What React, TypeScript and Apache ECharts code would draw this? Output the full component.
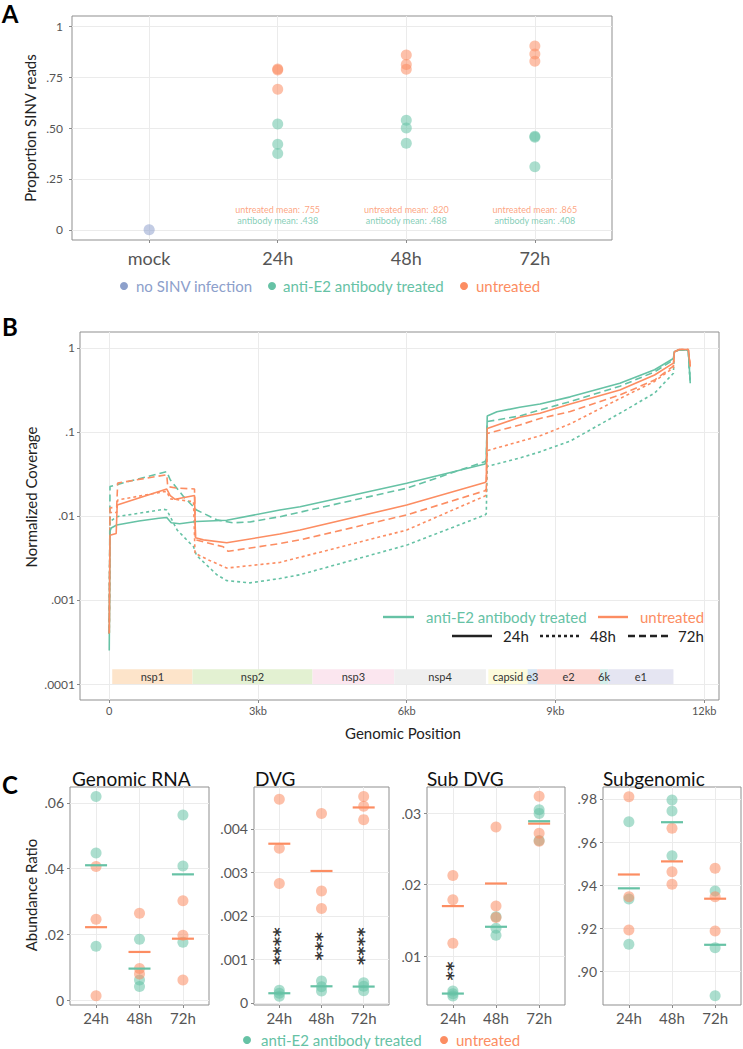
import React, { useEffect, useRef } from "react";
import * as echarts from "echarts";

const GREEN = "#66c2a5";
const ORANGE = "#fc8d62";
const BLUE = "#8da0cb";
const FONT = "Lato";
const DOTTED = [3, 3];
const DASHED = [7, 4];

// ---------------- Panel A data ----------------
const aCategories = ["mock", "24h", "48h", "72h"];
const aMockValues = [0, 0, 0];
const aAntibodyValues = [
  [0.52, 0.42, 0.375],
  [0.538, 0.5, 0.425],
  [0.46, 0.455, 0.31],
];
const aUntreatedValues = [
  [0.79, 0.785, 0.69],
  [0.858, 0.812, 0.789],
  [0.903, 0.863, 0.828],
];
const aUntreatedMeanLabels = [".755", ".820", ".865"];
const aAntibodyMeanLabels = [".438", ".488", ".408"];
const aYTicks = [0, 0.25, 0.5, 0.75, 1];
const aYTickLabels = ["0", ".25", ".50", ".75", "1"];

// ---------------- Panel B data ----------------
const bXTicks = [0, 3000, 6000, 9000, 12000];
const bXTickLabels = ["0", "3kb", "6kb", "9kb", "12kb"];
const bYTicks = [0.0001, 0.001, 0.01, 0.1, 1];
const bYTickLabels = [".0001", ".001", ".01", ".1", "1"];

const bAntibody24h = [
  [0, 0.00025], [15, 0.0066], [40, 0.0072], [150, 0.0078], [600, 0.0087], [1000, 0.0094],
  [1160, 0.0096], [1250, 0.0083], [1420, 0.0081], [1760, 0.0086], [2370, 0.0089],
  [3440, 0.0118], [3850, 0.0129], [6000, 0.0245], [7580, 0.0415], [7605, 0.045],
  [7625, 0.155], [7820, 0.174], [8280, 0.197], [8690, 0.215], [9300, 0.262], [10300, 0.38],
  [11000, 0.55], [11380, 0.75], [11400, 0.9], [11500, 0.95], [11680, 0.95], [11720, 0.38],
];
const bAntibody48h = [
  [0, 0.0004], [15, 0.0086], [150, 0.0098], [1100, 0.012], [1160, 0.0118], [1370, 0.0068],
  [1700, 0.0043], [1760, 0.0034], [2170, 0.002], [2370, 0.0017], [2840, 0.0016],
  [3440, 0.0018], [3850, 0.002], [6000, 0.0045], [7580, 0.0103], [7605, 0.0106],
  [7625, 0.039], [8280, 0.049], [8690, 0.058], [9300, 0.078], [10300, 0.167], [11000, 0.29],
  [11380, 0.5], [11400, 0.9], [11500, 0.95], [11680, 0.95], [11720, 0.38],
];
const bAntibody72h = [
  [0, 0.0004], [15, 0.0224], [300, 0.025], [1160, 0.0337], [1230, 0.027], [1500, 0.017],
  [1760, 0.0118], [2170, 0.009], [2500, 0.0083], [2840, 0.0085], [3440, 0.0098],
  [6000, 0.0214], [7580, 0.0445], [7605, 0.047], [7625, 0.133], [8280, 0.155], [8690, 0.183],
  [9300, 0.23], [10300, 0.35], [11000, 0.52], [11380, 0.72], [11400, 0.9], [11500, 0.95],
  [11680, 0.95], [11720, 0.38],
];
const bUntreated24h = [
  [0, 0.0004], [15, 0.0059], [140, 0.0062], [160, 0.0135], [1160, 0.0209], [1230, 0.0175],
  [1330, 0.0158], [1720, 0.0175], [1740, 0.0055], [1900, 0.0052], [2370, 0.0048],
  [3440, 0.0061], [3850, 0.0068], [6000, 0.0135], [7580, 0.025], [7605, 0.026], [7625, 0.11],
  [8280, 0.15], [8690, 0.167], [9300, 0.216], [10300, 0.316], [11000, 0.477], [11380, 0.66],
  [11400, 0.9], [11500, 0.96], [11680, 0.96], [11720, 0.6],
];
const bUntreated48h = [
  [0, 0.0004], [15, 0.011], [150, 0.011], [170, 0.0155], [1100, 0.0195], [1160, 0.0195],
  [1230, 0.016], [1700, 0.0148], [1730, 0.0036], [2000, 0.003], [2370, 0.0024],
  [3440, 0.0028], [6000, 0.0068], [7580, 0.0173], [7605, 0.018], [7625, 0.06], [8280, 0.077],
  [8690, 0.09], [9300, 0.125], [10300, 0.25], [11000, 0.4], [11380, 0.58], [11400, 0.9],
  [11500, 0.96], [11680, 0.96], [11720, 0.6],
];
const bUntreated72h = [
  [0, 0.0004], [15, 0.0125], [150, 0.0127], [170, 0.0247], [1160, 0.031], [1180, 0.0224],
  [1350, 0.0215], [1720, 0.021], [1740, 0.0052], [2300, 0.0043], [2400, 0.0038],
  [3440, 0.0047], [3850, 0.0052], [6000, 0.0103], [7580, 0.02], [7605, 0.021], [7625, 0.096],
  [8280, 0.121], [8690, 0.145], [9300, 0.175], [10300, 0.276], [11000, 0.415], [11380, 0.61],
  [11400, 0.9], [11500, 0.96], [11680, 0.96], [11720, 0.6],
];

const geneNames = ["nsp1", "nsp2", "nsp3", "nsp4", "capsid", "e3", "e2", "6k", "e1"];
const geneStarts = [60, 1680, 4101, 5748, 7647, 8439, 8631, 9900, 10065];
const geneEnds = [1679, 4100, 5747, 7598, 8438, 8630, 9899, 10064, 11381];
const geneColors = ["#fde4ca", "#e3f1d2", "#fbe6ef", "#efefef", "#fdfbdb", "#d3e4f3", "#fcd4cf", "#d4eeea", "#e5e5f2"];
const geneBandTop = 0.00015;
const geneBandBottom = 0.0001;

// ---------------- Panel C data ----------------
const cTimes = ["24h", "48h", "72h"];
const cGenomicAntibody = [[0.0619, 0.0447, 0.0164], [0.0185, 0.0061, 0.0041], [0.0563, 0.0408, 0.0176]];
const cGenomicUntreated = [[0.0406, 0.0246, 0.0013], [0.0264, 0.0096, 0.0079], [0.0302, 0.0197, 0.0061]];
const cDvgAntibody = [[0.00029, 0.00022, 0.00015], [0.0005, 0.00037, 0.00027], [0.00046, 0.00038, 0.00028]];
const cDvgUntreated = [[0.00468, 0.00355, 0.00274], [0.00435, 0.00257, 0.00217], [0.00474, 0.00452, 0.00421]];
const cSubDvgAntibody = [[0.0051, 0.0047, 0.0044], [0.0155, 0.0139, 0.0129], [0.0305, 0.03, 0.0262]];
const cSubDvgUntreated = [[0.0213, 0.0179, 0.0118], [0.0281, 0.017, 0.0154], [0.0324, 0.0272, 0.0261]];
const cSubgenomicAntibody = [[0.9694, 0.9337, 0.9127], [0.9795, 0.9744, 0.9537], [0.9374, 0.9111, 0.8889]];
const cSubgenomicUntreated = [[0.981, 0.9347, 0.9193], [0.9664, 0.9463, 0.9405], [0.9479, 0.9347, 0.9188]];
const cDvgStars = ["****", "***", "****"];
const cSubDvgStars = ["**", "", ""];

const cGenomicTicks = [0, 0.02, 0.04, 0.06];
const cGenomicTickLabels = ["0", ".02", ".04", ".06"];
const cDvgTicks = [0, 0.001, 0.002, 0.003, 0.004];
const cDvgTickLabels = ["0", ".001", ".002", ".003", ".004"];
const cSubDvgTicks = [0.01, 0.02, 0.03];
const cSubDvgTickLabels = [".01", ".02", ".03"];
const cSubgenomicTicks = [0.9, 0.92, 0.94, 0.96, 0.98];
const cSubgenomicTickLabels = [".90", ".92", ".94", ".96", ".98"];

// ---------------- helpers ----------------
const labelFor = (v: number, ticks: number[], labels: string[]) => {
  const i = ticks.findIndex((t) => Math.abs(t - v) <= Math.abs(t) * 1e-6 + 1e-12);
  return i >= 0 ? labels[i] : "";
};
const mean = (a: number[]) => a.reduce((s, x) => s + x, 0) / a.length;

function axis(type: string, gridIndex: number, min: number, max: number, ticks: number[], labels: string[], label: any) {
  return {
    type,
    gridIndex,
    min,
    max,
    axisLine: { show: false, onZero: false },
    axisTick: { show: true, customValues: ticks, length: 3, lineStyle: { color: "#8a8a8a" } },
    axisLabel: {
      customValues: ticks,
      formatter: (v: number) => labelFor(v, ticks, labels),
      color: "#555",
      fontFamily: FONT,
      ...label,
    },
    splitLine: { show: true, lineStyle: { color: "#ebebeb", width: 1 } },
  };
}

function txt(text: string, x: number, y: number, size: number, color: string, extra: any = {}) {
  return {
    type: "text",
    x,
    y,
    rotation: extra.rotation || 0,
    silent: true,
    z: 100,
    style: {
      text,
      fontSize: size,
      fontFamily: FONT,
      fontWeight: extra.weight || "normal",
      fill: color,
      align: extra.align || "center",
      verticalAlign: "middle",
    },
  };
}

function ln(x1: number, x2: number, y: number, color: string, dash: any) {
  return {
    type: "line",
    silent: true,
    z: 100,
    shape: { x1, y1: y, x2, y2: y },
    style: { stroke: color, lineWidth: 2.4, lineDash: dash },
  };
}

function dot(x: number, y: number, color: string) {
  return { type: "circle", silent: true, z: 100, shape: { cx: x, cy: y, r: 4 }, style: { fill: color } };
}

function cPanelSeries(idx: number, ab: number[][], un: number[][]) {
  const pts = (vals: number[][], color: string) => ({
    type: "scatter",
    xAxisIndex: idx,
    yAxisIndex: idx,
    data: vals.flatMap((arr, i) => arr.map((v) => [i + 1, v])),
    symbolSize: 11,
    itemStyle: { color, opacity: 0.55 },
    z: 2,
  });
  const means = (vals: number[][], color: string) => ({
    type: "scatter",
    xAxisIndex: idx,
    yAxisIndex: idx,
    data: vals.map((arr, i) => [i + 1, mean(arr)]),
    symbol: "rect",
    symbolSize: [22, 2.2],
    itemStyle: { color, opacity: 1 },
    z: 3,
  });
  return [pts(ab, GREEN), pts(un, ORANGE), means(un, ORANGE), means(ab, GREEN)];
}

function starSeries(idx: number, stars: string[], y: number) {
  return {
    type: "scatter",
    xAxisIndex: idx,
    yAxisIndex: idx,
    data: stars.map((s, i) => [i + 1, y, s]),
    symbolSize: 1,
    itemStyle: { color: "rgba(0,0,0,0)" },
    z: 5,
    label: {
      show: true,
      position: "inside",
      rotate: 90,
      formatter: (p: any) => p.data[2],
      color: "#000",
      fontSize: 18,
      fontWeight: "bold",
      fontFamily: "DejaVu Sans",
    },
  };
}

function buildOption() {
  const gridBase = { show: true, borderColor: "#8f8f8f", borderWidth: 1, backgroundColor: "transparent", containLabel: false };
  const grid = [
    { left: 72, top: 16, width: 540, height: 224 },
    { left: 80, top: 332, width: 639, height: 368 },
    { left: 70, top: 787, width: 139, height: 218 },
    { left: 254, top: 787, width: 135, height: 218 },
    { left: 427, top: 787, width: 138, height: 218 },
    { left: 603, top: 787, width: 138, height: 218 },
  ].map((g) => ({ ...gridBase, ...g }));

  const cX = (i: number) =>
    axis("value", i, 0.4, cTimes.length + 0.6, cTimes.map((_, k) => k + 1), cTimes, { fontSize: 15, margin: 5 });

  const xAxis = [
    axis("value", 0, 0.4, aCategories.length + 0.6, aCategories.map((_, k) => k + 1), aCategories, { fontSize: 18, margin: 9, color: "#555" }),
    axis("value", 1, -590, 12300, bXTicks, bXTickLabels, { fontSize: 11, margin: 5 }),
    cX(2),
    cX(3),
    cX(4),
    cX(5),
  ];
  const yAxis = [
    axis("value", 0, -0.05, 1.05, aYTicks, aYTickLabels, { fontSize: 12, margin: 9 }),
    { ...axis("log", 1, 6.45e-5, 1.55, bYTicks, bYTickLabels, { fontSize: 12, margin: 5 }), logBase: 10 },
    axis("value", 2, -0.0015, 0.0648, cGenomicTicks, cGenomicTickLabels, { fontSize: 14, margin: 6 }),
    axis("value", 3, -0.00005, 0.00496, cDvgTicks, cDvgTickLabels, { fontSize: 14, margin: 6 }),
    axis("value", 4, 0.00313, 0.0337, cSubDvgTicks, cSubDvgTickLabels, { fontSize: 14, margin: 6 }),
    axis("value", 5, 0.8846, 0.9855, cSubgenomicTicks, cSubgenomicTickLabels, { fontSize: 14, margin: 6 }),
  ];

  const series: any[] = [];
  // Panel A
  series.push({
    type: "scatter", xAxisIndex: 0, yAxisIndex: 0, symbolSize: 11,
    data: aMockValues.map((v) => [1, v]), itemStyle: { color: BLUE, opacity: 0.22 },
  });
  series.push({
    type: "scatter", xAxisIndex: 0, yAxisIndex: 0, symbolSize: 11,
    data: aAntibodyValues.flatMap((arr, i) => arr.map((v) => [i + 2, v])), itemStyle: { color: GREEN, opacity: 0.55 },
  });
  series.push({
    type: "scatter", xAxisIndex: 0, yAxisIndex: 0, symbolSize: 11,
    data: aUntreatedValues.flatMap((arr, i) => arr.map((v) => [i + 2, v])), itemStyle: { color: ORANGE, opacity: 0.55 },
  });
  const annot = (labels: string[], y: number, prefix: string, color: string) => ({
    type: "scatter", xAxisIndex: 0, yAxisIndex: 0, symbolSize: 1,
    itemStyle: { color: "rgba(0,0,0,0)" },
    data: labels.map((l, i) => [i + 2, y, l]),
    label: {
      show: true, position: "inside", formatter: (p: any) => prefix + p.data[2],
      color, fontSize: 9, lineHeight: 9, fontFamily: FONT,
    },
  });
  series.push(annot(aUntreatedMeanLabels, 0.098, "untreated mean: ", ORANGE));
  series.push(annot(aAntibodyMeanLabels, 0.048, "antibody mean: ", GREEN));

  // Panel B gene annotation
  series.push({
    type: "custom",
    xAxisIndex: 1,
    yAxisIndex: 1,
    data: geneNames.map((n, i) => [geneStarts[i], geneEnds[i], geneBandTop, geneBandBottom, i]),
    renderItem: (params: any, api: any) => {
      const i = api.value(4);
      const p1 = api.coord([api.value(0), api.value(2)]);
      const p2 = api.coord([api.value(1), api.value(3)]);
      return {
        type: "group",
        children: [
          { type: "rect", shape: { x: p1[0], y: p1[1], width: p2[0] - p1[0], height: p2[1] - p1[1] }, style: { fill: geneColors[i] } },
          {
            type: "text", z2: 10, x: (p1[0] + p2[0]) / 2, y: (p1[1] + p2[1]) / 2,
            style: { text: geneNames[i], align: "center", verticalAlign: "middle", fill: "#333", fontSize: 11, fontFamily: FONT },
          },
        ],
      };
    },
    z: 1,
  });
  const bLine = (data: number[][], color: string, type: any) => ({
    type: "line", xAxisIndex: 1, yAxisIndex: 1, data, showSymbol: false, symbol: "none",
    lineStyle: { color, width: 1.6, type, cap: "butt" }, z: 3,
  });
  series.push(bLine(bAntibody48h, GREEN, DOTTED));
  series.push(bLine(bUntreated48h, ORANGE, DOTTED));
  series.push(bLine(bAntibody72h, GREEN, DASHED));
  series.push(bLine(bUntreated72h, ORANGE, DASHED));
  series.push(bLine(bAntibody24h, GREEN, "solid"));
  series.push(bLine(bUntreated24h, ORANGE, "solid"));

  // Panel C
  series.push(...cPanelSeries(2, cGenomicAntibody, cGenomicUntreated));
  series.push(...cPanelSeries(3, cDvgAntibody, cDvgUntreated));
  series.push(...cPanelSeries(4, cSubDvgAntibody, cSubDvgUntreated));
  series.push(...cPanelSeries(5, cSubgenomicAntibody, cSubgenomicUntreated));
  series.push(starSeries(3, cDvgStars, 0.0013));
  series.push(starSeries(4, cSubDvgStars, 0.0079));

  const graphic: any[] = [
    // panel letters
    txt("A", 10, 13, 24, "#000", { weight: "bold" }),
    txt("B", 10, 326, 24, "#000", { weight: "bold" }),
    txt("C", 10, 784, 24, "#000", { weight: "bold" }),
    // axis titles
    txt("Proportion SINV reads", 30, 128, 15, "#222", { rotation: Math.PI / 2 }),
    txt("Normalized Coverage", 31, 497, 15, "#222", { rotation: Math.PI / 2 }),
    txt("Genomic Position", 403, 733, 15, "#222"),
    txt("Abundance Ratio", 31, 895, 15, "#222", { rotation: Math.PI / 2 }),
    // C titles
    txt("Genomic RNA", 72, 778, 19, "#111", { align: "left" }),
    txt("DVG", 255, 778, 19, "#111", { align: "left" }),
    txt("Sub DVG", 427, 778, 19, "#111", { align: "left" }),
    txt("Subgenomic", 603, 778, 19, "#111", { align: "left" }),
    // A legend
    dot(124, 286, BLUE),
    txt("no SINV infection", 136, 286, 15, BLUE, { align: "left" }),
    dot(272, 286, GREEN),
    txt("anti-E2 antibody treated", 283, 286, 15, GREEN, { align: "left" }),
    dot(464, 286, ORANGE),
    txt("untreated", 476, 286, 15, ORANGE, { align: "left" }),
    // B legend
    ln(383, 414, 617, GREEN, null),
    txt("anti-E2 antibody treated", 426, 617, 15, GREEN, { align: "left" }),
    ln(598, 628, 617, ORANGE, null),
    txt("untreated", 640, 617, 15, ORANGE, { align: "left" }),
    ln(452, 492, 636, "#222", null),
    txt("24h", 503, 636, 15, "#222", { align: "left" }),
    ln(540, 580, 636, "#222", DOTTED),
    txt("48h", 590, 636, 15, "#222", { align: "left" }),
    ln(628, 668, 636, "#222", DASHED),
    txt("72h", 678, 636, 15, "#222", { align: "left" }),
    // C legend
    dot(247, 1040, GREEN),
    txt("anti-E2 antibody treated", 261, 1040, 15, GREEN, { align: "left" }),
    dot(444, 1040, ORANGE),
    txt("untreated", 456, 1040, 15, ORANGE, { align: "left" }),
  ];

  return {
    animation: false,
    backgroundColor: "#fff",
    textStyle: { fontFamily: FONT },
    grid,
    xAxis,
    yAxis,
    series,
    graphic,
  };
}

export default function App() {
  const ref = useRef<HTMLDivElement>(null);
  useEffect(() => {
    if (!ref.current) return;
    const chart = echarts.init(ref.current, null, { renderer: "svg" });
    chart.setOption(buildOption() as any);
    return () => chart.dispose();
  }, []);
  return (
    <div
      ref={ref}
      style={{ position: "fixed", left: 0, top: 0, width: 743, height: 1049, background: "#fff" }}
    />
  );
}
